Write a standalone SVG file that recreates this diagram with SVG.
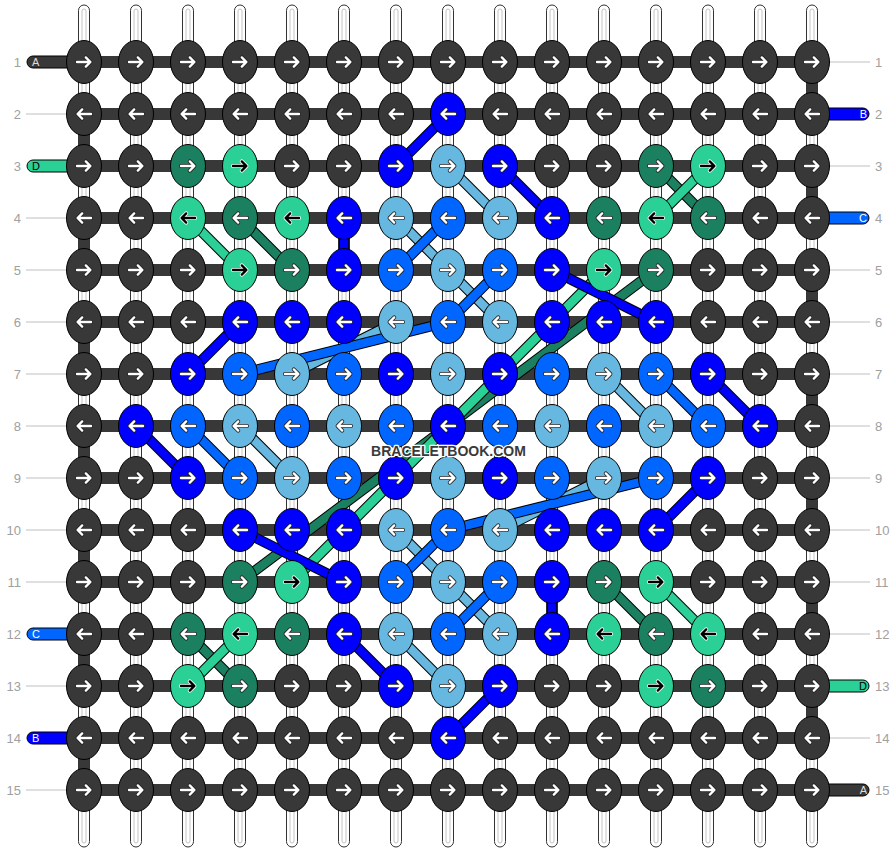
<svg xmlns="http://www.w3.org/2000/svg" width="896" height="852" viewBox="0 0 896 852">
<style>
.s{fill:#fff;stroke:#333;stroke-width:1}
.si{fill:none;stroke:#c4c4c4;stroke-width:1}
.h{fill:#383838}
.gl{stroke:#c0c0c0;stroke-width:1}
.o{stroke:#000;stroke-width:10.5}
.xb{stroke:#0000ff;stroke-width:8.5}
.xm{stroke:#0066ff;stroke-width:8.5}
.xl{stroke:#66b8e0;stroke-width:8.5}
.xd{stroke:#1b8060;stroke-width:8.5}
.xt{stroke:#2ad095;stroke-width:8.5}
ellipse{stroke:#000;stroke-width:1}
.d{fill:#383838}.dt{fill:#1b8060}.lt{fill:#2ad095}.b{fill:#0000ff}.m{fill:#0066ff}.l{fill:#66b8e0}
.bd{stroke:#000;stroke-width:1}
.num{font-family:"Liberation Sans",Arial,sans-serif;font-size:13px;fill:#a0a0a0}
.let{font-family:"Liberation Sans",Arial,sans-serif;font-size:11px}
.wm{font-family:"Liberation Sans",Arial,sans-serif;font-size:14px;font-weight:bold;fill:#3a3a3a;stroke:#fff;stroke-width:2.5;paint-order:stroke;stroke-linejoin:round}
.aw{fill:none;stroke-linecap:round;stroke-linejoin:round}
</style>
<defs>
<g id="R" class="aw"><path d="M-7,0H6M1.8,-4.6L6.4,0L1.8,4.6" stroke="#222" stroke-width="4"/><path d="M-7,0H6M1.8,-4.6L6.4,0L1.8,4.6" stroke="#fff" stroke-width="2.4"/></g>
<g id="L" class="aw"><path d="M7,0H-6M-1.8,-4.6L-6.4,0L-1.8,4.6" stroke="#222" stroke-width="4"/><path d="M7,0H-6M-1.8,-4.6L-6.4,0L-1.8,4.6" stroke="#fff" stroke-width="2.4"/></g>
<g id="Rk" class="aw"><path d="M-7,0H6M1.8,-4.6L6.4,0L1.8,4.6" stroke="#fff" stroke-width="4"/><path d="M-7,0H6M1.8,-4.6L6.4,0L1.8,4.6" stroke="#000" stroke-width="2.4"/></g>
<g id="Lk" class="aw"><path d="M7,0H-6M-1.8,-4.6L-6.4,0L-1.8,4.6" stroke="#fff" stroke-width="4"/><path d="M7,0H-6M-1.8,-4.6L-6.4,0L-1.8,4.6" stroke="#000" stroke-width="2.4"/></g>
</defs>
<rect width="896" height="852" fill="#fff"/>
<g id="strings">
<g id="warp">
<rect class="s" x="78.5" y="5" width="11" height="842" rx="5.5"/><rect class="si" x="82" y="9" width="4" height="834" rx="2"/>
<rect class="s" x="130.5" y="5" width="11" height="842" rx="5.5"/><rect class="si" x="134" y="9" width="4" height="834" rx="2"/>
<rect class="s" x="182.5" y="5" width="11" height="842" rx="5.5"/><rect class="si" x="186" y="9" width="4" height="834" rx="2"/>
<rect class="s" x="234.5" y="5" width="11" height="842" rx="5.5"/><rect class="si" x="238" y="9" width="4" height="834" rx="2"/>
<rect class="s" x="286.5" y="5" width="11" height="842" rx="5.5"/><rect class="si" x="290" y="9" width="4" height="834" rx="2"/>
<rect class="s" x="338.5" y="5" width="11" height="842" rx="5.5"/><rect class="si" x="342" y="9" width="4" height="834" rx="2"/>
<rect class="s" x="390.5" y="5" width="11" height="842" rx="5.5"/><rect class="si" x="394" y="9" width="4" height="834" rx="2"/>
<rect class="s" x="442.5" y="5" width="11" height="842" rx="5.5"/><rect class="si" x="446" y="9" width="4" height="834" rx="2"/>
<rect class="s" x="494.5" y="5" width="11" height="842" rx="5.5"/><rect class="si" x="498" y="9" width="4" height="834" rx="2"/>
<rect class="s" x="546.5" y="5" width="11" height="842" rx="5.5"/><rect class="si" x="550" y="9" width="4" height="834" rx="2"/>
<rect class="s" x="598.5" y="5" width="11" height="842" rx="5.5"/><rect class="si" x="602" y="9" width="4" height="834" rx="2"/>
<rect class="s" x="650.5" y="5" width="11" height="842" rx="5.5"/><rect class="si" x="654" y="9" width="4" height="834" rx="2"/>
<rect class="s" x="702.5" y="5" width="11" height="842" rx="5.5"/><rect class="si" x="706" y="9" width="4" height="834" rx="2"/>
<rect class="s" x="754.5" y="5" width="11" height="842" rx="5.5"/><rect class="si" x="758" y="9" width="4" height="834" rx="2"/>
<rect class="s" x="806.5" y="5" width="11" height="842" rx="5.5"/><rect class="si" x="810" y="9" width="4" height="834" rx="2"/>
</g>
<g id="weft">
<rect class="h" x="84" y="56" width="728" height="12"/>
<rect class="h" x="84" y="108" width="728" height="12"/>
<rect class="h" x="84" y="160" width="728" height="12"/>
<rect class="h" x="84" y="212" width="728" height="12"/>
<rect class="h" x="84" y="264" width="728" height="12"/>
<rect class="h" x="84" y="316" width="728" height="12"/>
<rect class="h" x="84" y="368" width="728" height="12"/>
<rect class="h" x="84" y="420" width="728" height="12"/>
<rect class="h" x="84" y="472" width="728" height="12"/>
<rect class="h" x="84" y="524" width="728" height="12"/>
<rect class="h" x="84" y="576" width="728" height="12"/>
<rect class="h" x="84" y="628" width="728" height="12"/>
<rect class="h" x="84" y="680" width="728" height="12"/>
<rect class="h" x="84" y="732" width="728" height="12"/>
<rect class="h" x="84" y="784" width="728" height="12"/>
<rect class="h" x="806.5" y="62" width="11" height="52"/>
<rect class="h" x="806.5" y="166" width="11" height="52"/>
<rect class="h" x="806.5" y="270" width="11" height="52"/>
<rect class="h" x="806.5" y="374" width="11" height="52"/>
<rect class="h" x="806.5" y="478" width="11" height="52"/>
<rect class="h" x="806.5" y="582" width="11" height="52"/>
<rect class="h" x="806.5" y="686" width="11" height="52"/>
<rect class="h" x="78.5" y="114" width="11" height="52"/>
<rect class="h" x="78.5" y="218" width="11" height="52"/>
<rect class="h" x="78.5" y="322" width="11" height="52"/>
<rect class="h" x="78.5" y="426" width="11" height="52"/>
<rect class="h" x="78.5" y="530" width="11" height="52"/>
<rect class="h" x="78.5" y="634" width="11" height="52"/>
<rect class="h" x="78.5" y="738" width="11" height="52"/>
</g>
<g id="ends">
<path class="bd" fill="#383838" d="M84,56H33a6,6 0 0 0 0,12H84Z"/>
<path class="bd" fill="#2ad095" d="M84,160H33a6,6 0 0 0 0,12H84Z"/>
<path class="bd" fill="#0066ff" d="M84,628H33a6,6 0 0 0 0,12H84Z"/>
<path class="bd" fill="#0000ff" d="M84,732H33a6,6 0 0 0 0,12H84Z"/>
<path class="bd" fill="#0000ff" d="M812,108H863a6,6 0 0 1 0,12H812Z"/>
<path class="bd" fill="#0066ff" d="M812,212H863a6,6 0 0 1 0,12H812Z"/>
<path class="bd" fill="#2ad095" d="M812,680H863a6,6 0 0 1 0,12H812Z"/>
<path class="bd" fill="#383838" d="M812,784H863a6,6 0 0 1 0,12H812Z"/>
<path class="gl" d="M26,114H66M26,218H66M26,270H66M26,322H66M26,374H66M26,426H66M26,478H66M26,530H66M26,582H66M26,686H66M26,790H66"/>
<path class="gl" d="M830,62H870M830,166H870M830,270H870M830,322H870M830,374H870M830,426H870M830,478H870M830,530H870M830,582H870M830,634H870M830,738H870"/>
</g>
</g>
<g id="connectors" fill="none">
<line class="o" x1="656" y1="270" x2="240" y2="582"/><line class="xd" x1="656" y1="270" x2="240" y2="582"/>
<line class="o" x1="604" y1="270" x2="292" y2="582"/><line class="xt" x1="604" y1="270" x2="292" y2="582"/>
<line class="o" x1="552" y1="270" x2="656" y2="322"/><line class="xb" x1="552" y1="270" x2="656" y2="322"/>
<line class="o" x1="240" y1="530" x2="344" y2="582"/><line class="xb" x1="240" y1="530" x2="344" y2="582"/>
<line class="o" x1="448" y1="114" x2="396" y2="166"/><line class="xb" x1="448" y1="114" x2="396" y2="166"/>
<line class="o" x1="500" y1="166" x2="552" y2="218"/><line class="xb" x1="500" y1="166" x2="552" y2="218"/>
<line class="o" x1="448" y1="166" x2="500" y2="218"/><line class="xl" x1="448" y1="166" x2="500" y2="218"/>
<line class="o" x1="656" y1="166" x2="708" y2="218"/><line class="xd" x1="656" y1="166" x2="708" y2="218"/>
<line class="o" x1="708" y1="166" x2="656" y2="218"/><line class="xt" x1="708" y1="166" x2="656" y2="218"/>
<line class="o" x1="188" y1="218" x2="240" y2="270"/><line class="xt" x1="188" y1="218" x2="240" y2="270"/>
<line class="o" x1="240" y1="218" x2="292" y2="270"/><line class="xd" x1="240" y1="218" x2="292" y2="270"/>
<line class="o" x1="344" y1="218" x2="344" y2="270"/><line class="xb" x1="344" y1="218" x2="344" y2="270"/>
<line class="o" x1="396" y1="218" x2="448" y2="270"/><line class="xl" x1="396" y1="218" x2="448" y2="270"/>
<line class="o" x1="448" y1="218" x2="396" y2="270"/><line class="xm" x1="448" y1="218" x2="396" y2="270"/>
<line class="o" x1="448" y1="270" x2="500" y2="322"/><line class="xl" x1="448" y1="270" x2="500" y2="322"/>
<line class="o" x1="500" y1="270" x2="448" y2="322"/><line class="xm" x1="500" y1="270" x2="448" y2="322"/>
<line class="o" x1="240" y1="322" x2="188" y2="374"/><line class="xb" x1="240" y1="322" x2="188" y2="374"/>
<line class="o" x1="396" y1="322" x2="292" y2="374"/><line class="xl" x1="396" y1="322" x2="292" y2="374"/>
<line class="o" x1="448" y1="322" x2="240" y2="374"/><line class="xm" x1="448" y1="322" x2="240" y2="374"/>
<line class="o" x1="604" y1="374" x2="656" y2="426"/><line class="xl" x1="604" y1="374" x2="656" y2="426"/>
<line class="o" x1="656" y1="374" x2="708" y2="426"/><line class="xm" x1="656" y1="374" x2="708" y2="426"/>
<line class="o" x1="708" y1="374" x2="760" y2="426"/><line class="xb" x1="708" y1="374" x2="760" y2="426"/>
<line class="o" x1="136" y1="426" x2="188" y2="478"/><line class="xb" x1="136" y1="426" x2="188" y2="478"/>
<line class="o" x1="188" y1="426" x2="240" y2="478"/><line class="xm" x1="188" y1="426" x2="240" y2="478"/>
<line class="o" x1="240" y1="426" x2="292" y2="478"/><line class="xl" x1="240" y1="426" x2="292" y2="478"/>
<line class="o" x1="708" y1="478" x2="656" y2="530"/><line class="xb" x1="708" y1="478" x2="656" y2="530"/>
<line class="o" x1="500" y1="530" x2="604" y2="478"/><line class="xl" x1="500" y1="530" x2="604" y2="478"/>
<line class="o" x1="448" y1="530" x2="656" y2="478"/><line class="xm" x1="448" y1="530" x2="656" y2="478"/>
<line class="o" x1="396" y1="530" x2="448" y2="582"/><line class="xl" x1="396" y1="530" x2="448" y2="582"/>
<line class="o" x1="448" y1="530" x2="396" y2="582"/><line class="xm" x1="448" y1="530" x2="396" y2="582"/>
<line class="o" x1="448" y1="582" x2="500" y2="634"/><line class="xl" x1="448" y1="582" x2="500" y2="634"/>
<line class="o" x1="500" y1="582" x2="448" y2="634"/><line class="xm" x1="500" y1="582" x2="448" y2="634"/>
<line class="o" x1="552" y1="582" x2="552" y2="634"/><line class="xb" x1="552" y1="582" x2="552" y2="634"/>
<line class="o" x1="604" y1="582" x2="656" y2="634"/><line class="xd" x1="604" y1="582" x2="656" y2="634"/>
<line class="o" x1="656" y1="582" x2="708" y2="634"/><line class="xt" x1="656" y1="582" x2="708" y2="634"/>
<line class="o" x1="188" y1="634" x2="240" y2="686"/><line class="xd" x1="188" y1="634" x2="240" y2="686"/>
<line class="o" x1="240" y1="634" x2="188" y2="686"/><line class="xt" x1="240" y1="634" x2="188" y2="686"/>
<line class="o" x1="344" y1="634" x2="396" y2="686"/><line class="xb" x1="344" y1="634" x2="396" y2="686"/>
<line class="o" x1="396" y1="634" x2="448" y2="686"/><line class="xl" x1="396" y1="634" x2="448" y2="686"/>
<line class="o" x1="500" y1="686" x2="448" y2="738"/><line class="xb" x1="500" y1="686" x2="448" y2="738"/>
</g>
<g id="knots">
<g id="k1-1"><ellipse class="d" cx="84" cy="62" rx="17.5" ry="21.5"/><use href="#R" x="84" y="62"/></g>
<g id="k1-2"><ellipse class="d" cx="136" cy="62" rx="17.5" ry="21.5"/><use href="#R" x="136" y="62"/></g>
<g id="k1-3"><ellipse class="d" cx="188" cy="62" rx="17.5" ry="21.5"/><use href="#R" x="188" y="62"/></g>
<g id="k1-4"><ellipse class="d" cx="240" cy="62" rx="17.5" ry="21.5"/><use href="#R" x="240" y="62"/></g>
<g id="k1-5"><ellipse class="d" cx="292" cy="62" rx="17.5" ry="21.5"/><use href="#R" x="292" y="62"/></g>
<g id="k1-6"><ellipse class="d" cx="344" cy="62" rx="17.5" ry="21.5"/><use href="#R" x="344" y="62"/></g>
<g id="k1-7"><ellipse class="d" cx="396" cy="62" rx="17.5" ry="21.5"/><use href="#R" x="396" y="62"/></g>
<g id="k1-8"><ellipse class="d" cx="448" cy="62" rx="17.5" ry="21.5"/><use href="#R" x="448" y="62"/></g>
<g id="k1-9"><ellipse class="d" cx="500" cy="62" rx="17.5" ry="21.5"/><use href="#R" x="500" y="62"/></g>
<g id="k1-10"><ellipse class="d" cx="552" cy="62" rx="17.5" ry="21.5"/><use href="#R" x="552" y="62"/></g>
<g id="k1-11"><ellipse class="d" cx="604" cy="62" rx="17.5" ry="21.5"/><use href="#R" x="604" y="62"/></g>
<g id="k1-12"><ellipse class="d" cx="656" cy="62" rx="17.5" ry="21.5"/><use href="#R" x="656" y="62"/></g>
<g id="k1-13"><ellipse class="d" cx="708" cy="62" rx="17.5" ry="21.5"/><use href="#R" x="708" y="62"/></g>
<g id="k1-14"><ellipse class="d" cx="760" cy="62" rx="17.5" ry="21.5"/><use href="#R" x="760" y="62"/></g>
<g id="k1-15"><ellipse class="d" cx="812" cy="62" rx="17.5" ry="21.5"/><use href="#R" x="812" y="62"/></g>

<g id="k2-1"><ellipse class="d" cx="84" cy="114" rx="17.5" ry="21.5"/><use href="#L" x="84" y="114"/></g>
<g id="k2-2"><ellipse class="d" cx="136" cy="114" rx="17.5" ry="21.5"/><use href="#L" x="136" y="114"/></g>
<g id="k2-3"><ellipse class="d" cx="188" cy="114" rx="17.5" ry="21.5"/><use href="#L" x="188" y="114"/></g>
<g id="k2-4"><ellipse class="d" cx="240" cy="114" rx="17.5" ry="21.5"/><use href="#L" x="240" y="114"/></g>
<g id="k2-5"><ellipse class="d" cx="292" cy="114" rx="17.5" ry="21.5"/><use href="#L" x="292" y="114"/></g>
<g id="k2-6"><ellipse class="d" cx="344" cy="114" rx="17.5" ry="21.5"/><use href="#L" x="344" y="114"/></g>
<g id="k2-7"><ellipse class="d" cx="396" cy="114" rx="17.5" ry="21.5"/><use href="#L" x="396" y="114"/></g>
<g id="k2-8"><ellipse class="b" cx="448" cy="114" rx="17.5" ry="21.5"/><use href="#L" x="448" y="114"/></g>
<g id="k2-9"><ellipse class="d" cx="500" cy="114" rx="17.5" ry="21.5"/><use href="#L" x="500" y="114"/></g>
<g id="k2-10"><ellipse class="d" cx="552" cy="114" rx="17.5" ry="21.5"/><use href="#L" x="552" y="114"/></g>
<g id="k2-11"><ellipse class="d" cx="604" cy="114" rx="17.5" ry="21.5"/><use href="#L" x="604" y="114"/></g>
<g id="k2-12"><ellipse class="d" cx="656" cy="114" rx="17.5" ry="21.5"/><use href="#L" x="656" y="114"/></g>
<g id="k2-13"><ellipse class="d" cx="708" cy="114" rx="17.5" ry="21.5"/><use href="#L" x="708" y="114"/></g>
<g id="k2-14"><ellipse class="d" cx="760" cy="114" rx="17.5" ry="21.5"/><use href="#L" x="760" y="114"/></g>
<g id="k2-15"><ellipse class="d" cx="812" cy="114" rx="17.5" ry="21.5"/><use href="#L" x="812" y="114"/></g>

<g id="k3-1"><ellipse class="d" cx="84" cy="166" rx="17.5" ry="21.5"/><use href="#R" x="84" y="166"/></g>
<g id="k3-2"><ellipse class="d" cx="136" cy="166" rx="17.5" ry="21.5"/><use href="#R" x="136" y="166"/></g>
<g id="k3-3"><ellipse class="dt" cx="188" cy="166" rx="17.5" ry="21.5"/><use href="#R" x="188" y="166"/></g>
<g id="k3-4"><ellipse class="lt" cx="240" cy="166" rx="17.5" ry="21.5"/><use href="#Rk" x="240" y="166"/></g>
<g id="k3-5"><ellipse class="d" cx="292" cy="166" rx="17.5" ry="21.5"/><use href="#R" x="292" y="166"/></g>
<g id="k3-6"><ellipse class="d" cx="344" cy="166" rx="17.5" ry="21.5"/><use href="#R" x="344" y="166"/></g>
<g id="k3-7"><ellipse class="b" cx="396" cy="166" rx="17.5" ry="21.5"/><use href="#R" x="396" y="166"/></g>
<g id="k3-8"><ellipse class="l" cx="448" cy="166" rx="17.5" ry="21.5"/><use href="#R" x="448" y="166"/></g>
<g id="k3-9"><ellipse class="b" cx="500" cy="166" rx="17.5" ry="21.5"/><use href="#R" x="500" y="166"/></g>
<g id="k3-10"><ellipse class="d" cx="552" cy="166" rx="17.5" ry="21.5"/><use href="#R" x="552" y="166"/></g>
<g id="k3-11"><ellipse class="d" cx="604" cy="166" rx="17.5" ry="21.5"/><use href="#R" x="604" y="166"/></g>
<g id="k3-12"><ellipse class="dt" cx="656" cy="166" rx="17.5" ry="21.5"/><use href="#R" x="656" y="166"/></g>
<g id="k3-13"><ellipse class="lt" cx="708" cy="166" rx="17.5" ry="21.5"/><use href="#Rk" x="708" y="166"/></g>
<g id="k3-14"><ellipse class="d" cx="760" cy="166" rx="17.5" ry="21.5"/><use href="#R" x="760" y="166"/></g>
<g id="k3-15"><ellipse class="d" cx="812" cy="166" rx="17.5" ry="21.5"/><use href="#R" x="812" y="166"/></g>

<g id="k4-1"><ellipse class="d" cx="84" cy="218" rx="17.5" ry="21.5"/><use href="#L" x="84" y="218"/></g>
<g id="k4-2"><ellipse class="d" cx="136" cy="218" rx="17.5" ry="21.5"/><use href="#L" x="136" y="218"/></g>
<g id="k4-3"><ellipse class="lt" cx="188" cy="218" rx="17.5" ry="21.5"/><use href="#Lk" x="188" y="218"/></g>
<g id="k4-4"><ellipse class="dt" cx="240" cy="218" rx="17.5" ry="21.5"/><use href="#L" x="240" y="218"/></g>
<g id="k4-5"><ellipse class="lt" cx="292" cy="218" rx="17.5" ry="21.5"/><use href="#Lk" x="292" y="218"/></g>
<g id="k4-6"><ellipse class="b" cx="344" cy="218" rx="17.5" ry="21.5"/><use href="#L" x="344" y="218"/></g>
<g id="k4-7"><ellipse class="l" cx="396" cy="218" rx="17.5" ry="21.5"/><use href="#L" x="396" y="218"/></g>
<g id="k4-8"><ellipse class="m" cx="448" cy="218" rx="17.5" ry="21.5"/><use href="#L" x="448" y="218"/></g>
<g id="k4-9"><ellipse class="l" cx="500" cy="218" rx="17.5" ry="21.5"/><use href="#L" x="500" y="218"/></g>
<g id="k4-10"><ellipse class="b" cx="552" cy="218" rx="17.5" ry="21.5"/><use href="#L" x="552" y="218"/></g>
<g id="k4-11"><ellipse class="dt" cx="604" cy="218" rx="17.5" ry="21.5"/><use href="#L" x="604" y="218"/></g>
<g id="k4-12"><ellipse class="lt" cx="656" cy="218" rx="17.5" ry="21.5"/><use href="#Lk" x="656" y="218"/></g>
<g id="k4-13"><ellipse class="dt" cx="708" cy="218" rx="17.5" ry="21.5"/><use href="#L" x="708" y="218"/></g>
<g id="k4-14"><ellipse class="d" cx="760" cy="218" rx="17.5" ry="21.5"/><use href="#L" x="760" y="218"/></g>
<g id="k4-15"><ellipse class="d" cx="812" cy="218" rx="17.5" ry="21.5"/><use href="#L" x="812" y="218"/></g>

<g id="k5-1"><ellipse class="d" cx="84" cy="270" rx="17.5" ry="21.5"/><use href="#R" x="84" y="270"/></g>
<g id="k5-2"><ellipse class="d" cx="136" cy="270" rx="17.5" ry="21.5"/><use href="#R" x="136" y="270"/></g>
<g id="k5-3"><ellipse class="d" cx="188" cy="270" rx="17.5" ry="21.5"/><use href="#R" x="188" y="270"/></g>
<g id="k5-4"><ellipse class="lt" cx="240" cy="270" rx="17.5" ry="21.5"/><use href="#Rk" x="240" y="270"/></g>
<g id="k5-5"><ellipse class="dt" cx="292" cy="270" rx="17.5" ry="21.5"/><use href="#R" x="292" y="270"/></g>
<g id="k5-6"><ellipse class="b" cx="344" cy="270" rx="17.5" ry="21.5"/><use href="#R" x="344" y="270"/></g>
<g id="k5-7"><ellipse class="m" cx="396" cy="270" rx="17.5" ry="21.5"/><use href="#R" x="396" y="270"/></g>
<g id="k5-8"><ellipse class="l" cx="448" cy="270" rx="17.5" ry="21.5"/><use href="#R" x="448" y="270"/></g>
<g id="k5-9"><ellipse class="m" cx="500" cy="270" rx="17.5" ry="21.5"/><use href="#R" x="500" y="270"/></g>
<g id="k5-10"><ellipse class="b" cx="552" cy="270" rx="17.5" ry="21.5"/><use href="#R" x="552" y="270"/></g>
<g id="k5-11"><ellipse class="lt" cx="604" cy="270" rx="17.5" ry="21.5"/><use href="#Rk" x="604" y="270"/></g>
<g id="k5-12"><ellipse class="dt" cx="656" cy="270" rx="17.5" ry="21.5"/><use href="#R" x="656" y="270"/></g>
<g id="k5-13"><ellipse class="d" cx="708" cy="270" rx="17.5" ry="21.5"/><use href="#R" x="708" y="270"/></g>
<g id="k5-14"><ellipse class="d" cx="760" cy="270" rx="17.5" ry="21.5"/><use href="#R" x="760" y="270"/></g>
<g id="k5-15"><ellipse class="d" cx="812" cy="270" rx="17.5" ry="21.5"/><use href="#R" x="812" y="270"/></g>

<g id="k6-1"><ellipse class="d" cx="84" cy="322" rx="17.5" ry="21.5"/><use href="#L" x="84" y="322"/></g>
<g id="k6-2"><ellipse class="d" cx="136" cy="322" rx="17.5" ry="21.5"/><use href="#L" x="136" y="322"/></g>
<g id="k6-3"><ellipse class="d" cx="188" cy="322" rx="17.5" ry="21.5"/><use href="#L" x="188" y="322"/></g>
<g id="k6-4"><ellipse class="b" cx="240" cy="322" rx="17.5" ry="21.5"/><use href="#L" x="240" y="322"/></g>
<g id="k6-5"><ellipse class="b" cx="292" cy="322" rx="17.5" ry="21.5"/><use href="#L" x="292" y="322"/></g>
<g id="k6-6"><ellipse class="b" cx="344" cy="322" rx="17.5" ry="21.5"/><use href="#L" x="344" y="322"/></g>
<g id="k6-7"><ellipse class="l" cx="396" cy="322" rx="17.5" ry="21.5"/><use href="#L" x="396" y="322"/></g>
<g id="k6-8"><ellipse class="m" cx="448" cy="322" rx="17.5" ry="21.5"/><use href="#L" x="448" y="322"/></g>
<g id="k6-9"><ellipse class="l" cx="500" cy="322" rx="17.5" ry="21.5"/><use href="#L" x="500" y="322"/></g>
<g id="k6-10"><ellipse class="b" cx="552" cy="322" rx="17.5" ry="21.5"/><use href="#L" x="552" y="322"/></g>
<g id="k6-11"><ellipse class="b" cx="604" cy="322" rx="17.5" ry="21.5"/><use href="#L" x="604" y="322"/></g>
<g id="k6-12"><ellipse class="b" cx="656" cy="322" rx="17.5" ry="21.5"/><use href="#L" x="656" y="322"/></g>
<g id="k6-13"><ellipse class="d" cx="708" cy="322" rx="17.5" ry="21.5"/><use href="#L" x="708" y="322"/></g>
<g id="k6-14"><ellipse class="d" cx="760" cy="322" rx="17.5" ry="21.5"/><use href="#L" x="760" y="322"/></g>
<g id="k6-15"><ellipse class="d" cx="812" cy="322" rx="17.5" ry="21.5"/><use href="#L" x="812" y="322"/></g>

<g id="k7-1"><ellipse class="d" cx="84" cy="374" rx="17.5" ry="21.5"/><use href="#R" x="84" y="374"/></g>
<g id="k7-2"><ellipse class="d" cx="136" cy="374" rx="17.5" ry="21.5"/><use href="#R" x="136" y="374"/></g>
<g id="k7-3"><ellipse class="b" cx="188" cy="374" rx="17.5" ry="21.5"/><use href="#R" x="188" y="374"/></g>
<g id="k7-4"><ellipse class="m" cx="240" cy="374" rx="17.5" ry="21.5"/><use href="#R" x="240" y="374"/></g>
<g id="k7-5"><ellipse class="l" cx="292" cy="374" rx="17.5" ry="21.5"/><use href="#R" x="292" y="374"/></g>
<g id="k7-6"><ellipse class="m" cx="344" cy="374" rx="17.5" ry="21.5"/><use href="#R" x="344" y="374"/></g>
<g id="k7-7"><ellipse class="b" cx="396" cy="374" rx="17.5" ry="21.5"/><use href="#R" x="396" y="374"/></g>
<g id="k7-8"><ellipse class="l" cx="448" cy="374" rx="17.5" ry="21.5"/><use href="#R" x="448" y="374"/></g>
<g id="k7-9"><ellipse class="b" cx="500" cy="374" rx="17.5" ry="21.5"/><use href="#R" x="500" y="374"/></g>
<g id="k7-10"><ellipse class="m" cx="552" cy="374" rx="17.5" ry="21.5"/><use href="#R" x="552" y="374"/></g>
<g id="k7-11"><ellipse class="l" cx="604" cy="374" rx="17.5" ry="21.5"/><use href="#R" x="604" y="374"/></g>
<g id="k7-12"><ellipse class="m" cx="656" cy="374" rx="17.5" ry="21.5"/><use href="#R" x="656" y="374"/></g>
<g id="k7-13"><ellipse class="b" cx="708" cy="374" rx="17.5" ry="21.5"/><use href="#R" x="708" y="374"/></g>
<g id="k7-14"><ellipse class="d" cx="760" cy="374" rx="17.5" ry="21.5"/><use href="#R" x="760" y="374"/></g>
<g id="k7-15"><ellipse class="d" cx="812" cy="374" rx="17.5" ry="21.5"/><use href="#R" x="812" y="374"/></g>

<g id="k8-1"><ellipse class="d" cx="84" cy="426" rx="17.5" ry="21.5"/><use href="#L" x="84" y="426"/></g>
<g id="k8-2"><ellipse class="b" cx="136" cy="426" rx="17.5" ry="21.5"/><use href="#L" x="136" y="426"/></g>
<g id="k8-3"><ellipse class="m" cx="188" cy="426" rx="17.5" ry="21.5"/><use href="#L" x="188" y="426"/></g>
<g id="k8-4"><ellipse class="l" cx="240" cy="426" rx="17.5" ry="21.5"/><use href="#L" x="240" y="426"/></g>
<g id="k8-5"><ellipse class="m" cx="292" cy="426" rx="17.5" ry="21.5"/><use href="#L" x="292" y="426"/></g>
<g id="k8-6"><ellipse class="l" cx="344" cy="426" rx="17.5" ry="21.5"/><use href="#L" x="344" y="426"/></g>
<g id="k8-7"><ellipse class="m" cx="396" cy="426" rx="17.5" ry="21.5"/><use href="#L" x="396" y="426"/></g>
<g id="k8-8"><ellipse class="b" cx="448" cy="426" rx="17.5" ry="21.5"/><use href="#L" x="448" y="426"/></g>
<g id="k8-9"><ellipse class="m" cx="500" cy="426" rx="17.5" ry="21.5"/><use href="#L" x="500" y="426"/></g>
<g id="k8-10"><ellipse class="l" cx="552" cy="426" rx="17.5" ry="21.5"/><use href="#L" x="552" y="426"/></g>
<g id="k8-11"><ellipse class="m" cx="604" cy="426" rx="17.5" ry="21.5"/><use href="#L" x="604" y="426"/></g>
<g id="k8-12"><ellipse class="l" cx="656" cy="426" rx="17.5" ry="21.5"/><use href="#L" x="656" y="426"/></g>
<g id="k8-13"><ellipse class="m" cx="708" cy="426" rx="17.5" ry="21.5"/><use href="#L" x="708" y="426"/></g>
<g id="k8-14"><ellipse class="b" cx="760" cy="426" rx="17.5" ry="21.5"/><use href="#L" x="760" y="426"/></g>
<g id="k8-15"><ellipse class="d" cx="812" cy="426" rx="17.5" ry="21.5"/><use href="#L" x="812" y="426"/></g>

<g id="k9-1"><ellipse class="d" cx="84" cy="478" rx="17.5" ry="21.5"/><use href="#R" x="84" y="478"/></g>
<g id="k9-2"><ellipse class="d" cx="136" cy="478" rx="17.5" ry="21.5"/><use href="#R" x="136" y="478"/></g>
<g id="k9-3"><ellipse class="b" cx="188" cy="478" rx="17.5" ry="21.5"/><use href="#R" x="188" y="478"/></g>
<g id="k9-4"><ellipse class="m" cx="240" cy="478" rx="17.5" ry="21.5"/><use href="#R" x="240" y="478"/></g>
<g id="k9-5"><ellipse class="l" cx="292" cy="478" rx="17.5" ry="21.5"/><use href="#R" x="292" y="478"/></g>
<g id="k9-6"><ellipse class="m" cx="344" cy="478" rx="17.5" ry="21.5"/><use href="#R" x="344" y="478"/></g>
<g id="k9-7"><ellipse class="b" cx="396" cy="478" rx="17.5" ry="21.5"/><use href="#R" x="396" y="478"/></g>
<g id="k9-8"><ellipse class="l" cx="448" cy="478" rx="17.5" ry="21.5"/><use href="#R" x="448" y="478"/></g>
<g id="k9-9"><ellipse class="b" cx="500" cy="478" rx="17.5" ry="21.5"/><use href="#R" x="500" y="478"/></g>
<g id="k9-10"><ellipse class="m" cx="552" cy="478" rx="17.5" ry="21.5"/><use href="#R" x="552" y="478"/></g>
<g id="k9-11"><ellipse class="l" cx="604" cy="478" rx="17.5" ry="21.5"/><use href="#R" x="604" y="478"/></g>
<g id="k9-12"><ellipse class="m" cx="656" cy="478" rx="17.5" ry="21.5"/><use href="#R" x="656" y="478"/></g>
<g id="k9-13"><ellipse class="b" cx="708" cy="478" rx="17.5" ry="21.5"/><use href="#R" x="708" y="478"/></g>
<g id="k9-14"><ellipse class="d" cx="760" cy="478" rx="17.5" ry="21.5"/><use href="#R" x="760" y="478"/></g>
<g id="k9-15"><ellipse class="d" cx="812" cy="478" rx="17.5" ry="21.5"/><use href="#R" x="812" y="478"/></g>

<g id="k10-1"><ellipse class="d" cx="84" cy="530" rx="17.5" ry="21.5"/><use href="#L" x="84" y="530"/></g>
<g id="k10-2"><ellipse class="d" cx="136" cy="530" rx="17.5" ry="21.5"/><use href="#L" x="136" y="530"/></g>
<g id="k10-3"><ellipse class="d" cx="188" cy="530" rx="17.5" ry="21.5"/><use href="#L" x="188" y="530"/></g>
<g id="k10-4"><ellipse class="b" cx="240" cy="530" rx="17.5" ry="21.5"/><use href="#L" x="240" y="530"/></g>
<g id="k10-5"><ellipse class="b" cx="292" cy="530" rx="17.5" ry="21.5"/><use href="#L" x="292" y="530"/></g>
<g id="k10-6"><ellipse class="b" cx="344" cy="530" rx="17.5" ry="21.5"/><use href="#L" x="344" y="530"/></g>
<g id="k10-7"><ellipse class="l" cx="396" cy="530" rx="17.5" ry="21.5"/><use href="#L" x="396" y="530"/></g>
<g id="k10-8"><ellipse class="m" cx="448" cy="530" rx="17.5" ry="21.5"/><use href="#L" x="448" y="530"/></g>
<g id="k10-9"><ellipse class="l" cx="500" cy="530" rx="17.5" ry="21.5"/><use href="#L" x="500" y="530"/></g>
<g id="k10-10"><ellipse class="b" cx="552" cy="530" rx="17.5" ry="21.5"/><use href="#L" x="552" y="530"/></g>
<g id="k10-11"><ellipse class="b" cx="604" cy="530" rx="17.5" ry="21.5"/><use href="#L" x="604" y="530"/></g>
<g id="k10-12"><ellipse class="b" cx="656" cy="530" rx="17.5" ry="21.5"/><use href="#L" x="656" y="530"/></g>
<g id="k10-13"><ellipse class="d" cx="708" cy="530" rx="17.5" ry="21.5"/><use href="#L" x="708" y="530"/></g>
<g id="k10-14"><ellipse class="d" cx="760" cy="530" rx="17.5" ry="21.5"/><use href="#L" x="760" y="530"/></g>
<g id="k10-15"><ellipse class="d" cx="812" cy="530" rx="17.5" ry="21.5"/><use href="#L" x="812" y="530"/></g>

<g id="k11-1"><ellipse class="d" cx="84" cy="582" rx="17.5" ry="21.5"/><use href="#R" x="84" y="582"/></g>
<g id="k11-2"><ellipse class="d" cx="136" cy="582" rx="17.5" ry="21.5"/><use href="#R" x="136" y="582"/></g>
<g id="k11-3"><ellipse class="d" cx="188" cy="582" rx="17.5" ry="21.5"/><use href="#R" x="188" y="582"/></g>
<g id="k11-4"><ellipse class="dt" cx="240" cy="582" rx="17.5" ry="21.5"/><use href="#R" x="240" y="582"/></g>
<g id="k11-5"><ellipse class="lt" cx="292" cy="582" rx="17.5" ry="21.5"/><use href="#Rk" x="292" y="582"/></g>
<g id="k11-6"><ellipse class="b" cx="344" cy="582" rx="17.5" ry="21.5"/><use href="#R" x="344" y="582"/></g>
<g id="k11-7"><ellipse class="m" cx="396" cy="582" rx="17.5" ry="21.5"/><use href="#R" x="396" y="582"/></g>
<g id="k11-8"><ellipse class="l" cx="448" cy="582" rx="17.5" ry="21.5"/><use href="#R" x="448" y="582"/></g>
<g id="k11-9"><ellipse class="m" cx="500" cy="582" rx="17.5" ry="21.5"/><use href="#R" x="500" y="582"/></g>
<g id="k11-10"><ellipse class="b" cx="552" cy="582" rx="17.5" ry="21.5"/><use href="#R" x="552" y="582"/></g>
<g id="k11-11"><ellipse class="dt" cx="604" cy="582" rx="17.5" ry="21.5"/><use href="#R" x="604" y="582"/></g>
<g id="k11-12"><ellipse class="lt" cx="656" cy="582" rx="17.5" ry="21.5"/><use href="#Rk" x="656" y="582"/></g>
<g id="k11-13"><ellipse class="d" cx="708" cy="582" rx="17.5" ry="21.5"/><use href="#R" x="708" y="582"/></g>
<g id="k11-14"><ellipse class="d" cx="760" cy="582" rx="17.5" ry="21.5"/><use href="#R" x="760" y="582"/></g>
<g id="k11-15"><ellipse class="d" cx="812" cy="582" rx="17.5" ry="21.5"/><use href="#R" x="812" y="582"/></g>

<g id="k12-1"><ellipse class="d" cx="84" cy="634" rx="17.5" ry="21.5"/><use href="#L" x="84" y="634"/></g>
<g id="k12-2"><ellipse class="d" cx="136" cy="634" rx="17.5" ry="21.5"/><use href="#L" x="136" y="634"/></g>
<g id="k12-3"><ellipse class="dt" cx="188" cy="634" rx="17.5" ry="21.5"/><use href="#L" x="188" y="634"/></g>
<g id="k12-4"><ellipse class="lt" cx="240" cy="634" rx="17.5" ry="21.5"/><use href="#Lk" x="240" y="634"/></g>
<g id="k12-5"><ellipse class="dt" cx="292" cy="634" rx="17.5" ry="21.5"/><use href="#L" x="292" y="634"/></g>
<g id="k12-6"><ellipse class="b" cx="344" cy="634" rx="17.5" ry="21.5"/><use href="#L" x="344" y="634"/></g>
<g id="k12-7"><ellipse class="l" cx="396" cy="634" rx="17.5" ry="21.5"/><use href="#L" x="396" y="634"/></g>
<g id="k12-8"><ellipse class="m" cx="448" cy="634" rx="17.5" ry="21.5"/><use href="#L" x="448" y="634"/></g>
<g id="k12-9"><ellipse class="l" cx="500" cy="634" rx="17.5" ry="21.5"/><use href="#L" x="500" y="634"/></g>
<g id="k12-10"><ellipse class="b" cx="552" cy="634" rx="17.5" ry="21.5"/><use href="#L" x="552" y="634"/></g>
<g id="k12-11"><ellipse class="lt" cx="604" cy="634" rx="17.5" ry="21.5"/><use href="#Lk" x="604" y="634"/></g>
<g id="k12-12"><ellipse class="dt" cx="656" cy="634" rx="17.5" ry="21.5"/><use href="#L" x="656" y="634"/></g>
<g id="k12-13"><ellipse class="lt" cx="708" cy="634" rx="17.5" ry="21.5"/><use href="#Lk" x="708" y="634"/></g>
<g id="k12-14"><ellipse class="d" cx="760" cy="634" rx="17.5" ry="21.5"/><use href="#L" x="760" y="634"/></g>
<g id="k12-15"><ellipse class="d" cx="812" cy="634" rx="17.5" ry="21.5"/><use href="#L" x="812" y="634"/></g>

<g id="k13-1"><ellipse class="d" cx="84" cy="686" rx="17.5" ry="21.5"/><use href="#R" x="84" y="686"/></g>
<g id="k13-2"><ellipse class="d" cx="136" cy="686" rx="17.5" ry="21.5"/><use href="#R" x="136" y="686"/></g>
<g id="k13-3"><ellipse class="lt" cx="188" cy="686" rx="17.5" ry="21.5"/><use href="#Rk" x="188" y="686"/></g>
<g id="k13-4"><ellipse class="dt" cx="240" cy="686" rx="17.5" ry="21.5"/><use href="#R" x="240" y="686"/></g>
<g id="k13-5"><ellipse class="d" cx="292" cy="686" rx="17.5" ry="21.5"/><use href="#R" x="292" y="686"/></g>
<g id="k13-6"><ellipse class="d" cx="344" cy="686" rx="17.5" ry="21.5"/><use href="#R" x="344" y="686"/></g>
<g id="k13-7"><ellipse class="b" cx="396" cy="686" rx="17.5" ry="21.5"/><use href="#R" x="396" y="686"/></g>
<g id="k13-8"><ellipse class="l" cx="448" cy="686" rx="17.5" ry="21.5"/><use href="#R" x="448" y="686"/></g>
<g id="k13-9"><ellipse class="b" cx="500" cy="686" rx="17.5" ry="21.5"/><use href="#R" x="500" y="686"/></g>
<g id="k13-10"><ellipse class="d" cx="552" cy="686" rx="17.5" ry="21.5"/><use href="#R" x="552" y="686"/></g>
<g id="k13-11"><ellipse class="d" cx="604" cy="686" rx="17.5" ry="21.5"/><use href="#R" x="604" y="686"/></g>
<g id="k13-12"><ellipse class="lt" cx="656" cy="686" rx="17.5" ry="21.5"/><use href="#Rk" x="656" y="686"/></g>
<g id="k13-13"><ellipse class="dt" cx="708" cy="686" rx="17.5" ry="21.5"/><use href="#R" x="708" y="686"/></g>
<g id="k13-14"><ellipse class="d" cx="760" cy="686" rx="17.5" ry="21.5"/><use href="#R" x="760" y="686"/></g>
<g id="k13-15"><ellipse class="d" cx="812" cy="686" rx="17.5" ry="21.5"/><use href="#R" x="812" y="686"/></g>

<g id="k14-1"><ellipse class="d" cx="84" cy="738" rx="17.5" ry="21.5"/><use href="#L" x="84" y="738"/></g>
<g id="k14-2"><ellipse class="d" cx="136" cy="738" rx="17.5" ry="21.5"/><use href="#L" x="136" y="738"/></g>
<g id="k14-3"><ellipse class="d" cx="188" cy="738" rx="17.5" ry="21.5"/><use href="#L" x="188" y="738"/></g>
<g id="k14-4"><ellipse class="d" cx="240" cy="738" rx="17.5" ry="21.5"/><use href="#L" x="240" y="738"/></g>
<g id="k14-5"><ellipse class="d" cx="292" cy="738" rx="17.5" ry="21.5"/><use href="#L" x="292" y="738"/></g>
<g id="k14-6"><ellipse class="d" cx="344" cy="738" rx="17.5" ry="21.5"/><use href="#L" x="344" y="738"/></g>
<g id="k14-7"><ellipse class="d" cx="396" cy="738" rx="17.5" ry="21.5"/><use href="#L" x="396" y="738"/></g>
<g id="k14-8"><ellipse class="b" cx="448" cy="738" rx="17.5" ry="21.5"/><use href="#L" x="448" y="738"/></g>
<g id="k14-9"><ellipse class="d" cx="500" cy="738" rx="17.5" ry="21.5"/><use href="#L" x="500" y="738"/></g>
<g id="k14-10"><ellipse class="d" cx="552" cy="738" rx="17.5" ry="21.5"/><use href="#L" x="552" y="738"/></g>
<g id="k14-11"><ellipse class="d" cx="604" cy="738" rx="17.5" ry="21.5"/><use href="#L" x="604" y="738"/></g>
<g id="k14-12"><ellipse class="d" cx="656" cy="738" rx="17.5" ry="21.5"/><use href="#L" x="656" y="738"/></g>
<g id="k14-13"><ellipse class="d" cx="708" cy="738" rx="17.5" ry="21.5"/><use href="#L" x="708" y="738"/></g>
<g id="k14-14"><ellipse class="d" cx="760" cy="738" rx="17.5" ry="21.5"/><use href="#L" x="760" y="738"/></g>
<g id="k14-15"><ellipse class="d" cx="812" cy="738" rx="17.5" ry="21.5"/><use href="#L" x="812" y="738"/></g>

<g id="k15-1"><ellipse class="d" cx="84" cy="790" rx="17.5" ry="21.5"/><use href="#R" x="84" y="790"/></g>
<g id="k15-2"><ellipse class="d" cx="136" cy="790" rx="17.5" ry="21.5"/><use href="#R" x="136" y="790"/></g>
<g id="k15-3"><ellipse class="d" cx="188" cy="790" rx="17.5" ry="21.5"/><use href="#R" x="188" y="790"/></g>
<g id="k15-4"><ellipse class="d" cx="240" cy="790" rx="17.5" ry="21.5"/><use href="#R" x="240" y="790"/></g>
<g id="k15-5"><ellipse class="d" cx="292" cy="790" rx="17.5" ry="21.5"/><use href="#R" x="292" y="790"/></g>
<g id="k15-6"><ellipse class="d" cx="344" cy="790" rx="17.5" ry="21.5"/><use href="#R" x="344" y="790"/></g>
<g id="k15-7"><ellipse class="d" cx="396" cy="790" rx="17.5" ry="21.5"/><use href="#R" x="396" y="790"/></g>
<g id="k15-8"><ellipse class="d" cx="448" cy="790" rx="17.5" ry="21.5"/><use href="#R" x="448" y="790"/></g>
<g id="k15-9"><ellipse class="d" cx="500" cy="790" rx="17.5" ry="21.5"/><use href="#R" x="500" y="790"/></g>
<g id="k15-10"><ellipse class="d" cx="552" cy="790" rx="17.5" ry="21.5"/><use href="#R" x="552" y="790"/></g>
<g id="k15-11"><ellipse class="d" cx="604" cy="790" rx="17.5" ry="21.5"/><use href="#R" x="604" y="790"/></g>
<g id="k15-12"><ellipse class="d" cx="656" cy="790" rx="17.5" ry="21.5"/><use href="#R" x="656" y="790"/></g>
<g id="k15-13"><ellipse class="d" cx="708" cy="790" rx="17.5" ry="21.5"/><use href="#R" x="708" y="790"/></g>
<g id="k15-14"><ellipse class="d" cx="760" cy="790" rx="17.5" ry="21.5"/><use href="#R" x="760" y="790"/></g>
<g id="k15-15"><ellipse class="d" cx="812" cy="790" rx="17.5" ry="21.5"/><use href="#R" x="812" y="790"/></g>
</g>
<g id="labels">
<g class="num" text-anchor="end">
<text x="21" y="66.5">1</text><text x="21" y="118.5">2</text><text x="21" y="170.5">3</text><text x="21" y="222.5">4</text><text x="21" y="274.5">5</text><text x="21" y="326.5">6</text><text x="21" y="378.5">7</text><text x="21" y="430.5">8</text><text x="21" y="482.5">9</text><text x="21" y="534.5">10</text><text x="21" y="586.5">11</text><text x="21" y="638.5">12</text><text x="21" y="690.5">13</text><text x="21" y="742.5">14</text><text x="21" y="794.5">15</text>
</g>
<g class="num">
<text x="875" y="66.5">1</text><text x="875" y="118.5">2</text><text x="875" y="170.5">3</text><text x="875" y="222.5">4</text><text x="875" y="274.5">5</text><text x="875" y="326.5">6</text><text x="875" y="378.5">7</text><text x="875" y="430.5">8</text><text x="875" y="482.5">9</text><text x="875" y="534.5">10</text><text x="875" y="586.5">11</text><text x="875" y="638.5">12</text><text x="875" y="690.5">13</text><text x="875" y="742.5">14</text><text x="875" y="794.5">15</text>
</g>
<g class="let">
<text x="32" y="66" fill="#ddd">A</text>
<text x="32" y="170" fill="#000">D</text>
<text x="32" y="638" fill="#fff">C</text>
<text x="32" y="742" fill="#fff">B</text>
<text x="867" y="118" fill="#fff" text-anchor="end">B</text>
<text x="867" y="222" fill="#fff" text-anchor="end">C</text>
<text x="867" y="690" fill="#000" text-anchor="end">D</text>
<text x="867" y="794" fill="#ddd" text-anchor="end">A</text>
</g>
<text class="wm" x="448.5" y="456" text-anchor="middle">BRACELETBOOK.COM</text>
</g>
</svg>
